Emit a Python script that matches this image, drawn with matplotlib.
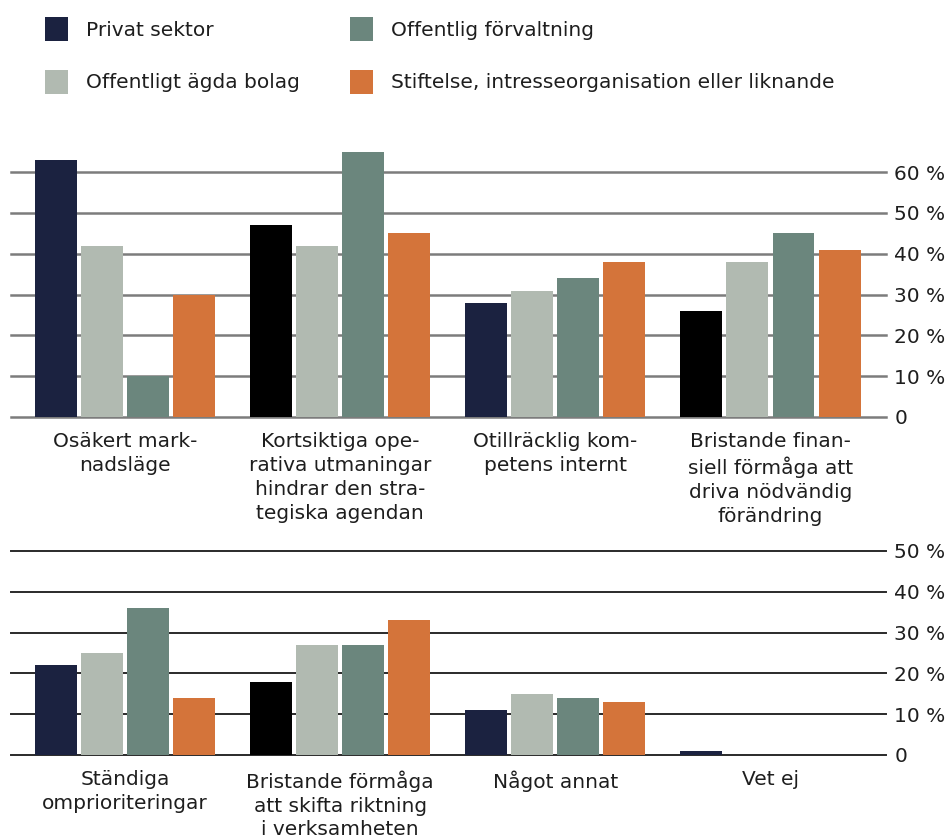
import matplotlib
matplotlib.use("Agg")
import matplotlib.pyplot as plt
from matplotlib.patches import Rectangle
import numpy as np

plt.rcParams['font.family'] = ['DejaVu Sans']

series = ["Privat sektor", "Offentligt ägda bolag", "Offentlig förvaltning",
          "Stiftelse, intresseorganisation eller liknande"]
colors = ["#1b2240", "#b1bab1", "#6b867d", "#d4743a"]

top_categories = ["Osäkert mark-\nnadsläge",
                  "Kortsiktiga ope-\nrativa utmaningar\nhindrar den stra-\ntegiska agendan",
                  "Otillräcklig kom-\npetens internt",
                  "Bristande finan-\nsiell förmåga att\ndriva nödvändig\nförändring"]
top_values = {
    "Privat sektor": [63, 47, 28, 26],
    "Offentligt ägda bolag": [42, 42, 31, 38],
    "Offentlig förvaltning": [10, 65, 34, 45],
    "Stiftelse, intresseorganisation eller liknande": [30, 45, 38, 41],
}
top_ticks = [0, 10, 20, 30, 40, 50, 60]

bottom_categories = ["Ständiga\nomprioriteringar",
                     "Bristande förmåga\natt skifta riktning\ni verksamheten",
                     "Något annat",
                     "Vet ej"]
bottom_values = {
    "Privat sektor": [22, 18, 11, 1],
    "Offentligt ägda bolag": [25, 27, 15, 0],
    "Offentlig förvaltning": [36, 27, 14, 0],
    "Stiftelse, intresseorganisation eller liknande": [14, 33, 13, 0],
}
bottom_ticks = [0, 10, 20, 30, 40, 50]

# Private-sector bars printed in black in some groups
top_private_colors = ["#1b2240", "#000000", "#1b2240", "#000000"]
bottom_private_colors = ["#1b2240", "#000000", "#1b2240", "#1b2240"]

FS = 14.5
TEXT = "#1e1e1e"

W, H = 947, 840
fig = plt.figure(figsize=(W / 100, H / 100), dpi=100)

left_px, right_px = 11, 886
px_per_pct = 4.08


def make_axes(base_px, ymax):
    height_px = ymax * px_per_pct
    return fig.add_axes([left_px / W, 1 - base_px / H,
                         (right_px - left_px) / W, height_px / H])


def draw_panel(ax, cats, values, ticks, ymax, private_colors, grid_color, grid_lw):
    x = np.arange(len(cats))
    width = 0.195
    step = 0.214
    for i, name in enumerate(series):
        offs = (i - 1.5) * step
        c = private_colors if i == 0 else colors[i]
        ax.bar(x + offs, values[name], width=width, color=c, zorder=3, linewidth=0)
    ax.set_xlim(-0.53, 3.537)
    ax.set_ylim(0, ymax)
    ax.set_yticks(ticks)
    ax.set_yticklabels(["0" if t == 0 else f"{t} %" for t in ticks])
    ax.yaxis.tick_right()
    ax.tick_params(axis='y', length=0, pad=6, labelsize=FS, labelcolor=TEXT)
    ax.set_xticks(x)
    ax.set_xticklabels(cats, linespacing=1.32)
    ax.tick_params(axis='x', length=0, pad=11, labelsize=FS, labelcolor=TEXT)
    for t in ticks:
        ax.axhline(t, color=grid_color, lw=grid_lw, zorder=1, clip_on=False)
    for s in ax.spines.values():
        s.set_visible(False)
    ax.patch.set_alpha(0)


ax_top = make_axes(417, 66)
draw_panel(ax_top, top_categories, top_values, top_ticks, 66,
           top_private_colors, "#7c7c7c", 1.8)

ax_bot = make_axes(755, 51)
draw_panel(ax_bot, bottom_categories, bottom_values, bottom_ticks, 51,
           bottom_private_colors, "#2a2a2a", 1.4)

# Legend laid out in two columns above the panels
legend_pos = [(45, 29), (45, 82), (350, 29), (350, 82)]
for (lx, ly), name, c in zip(legend_pos, series, colors):
    fig.add_artist(Rectangle((lx / W, 1 - (ly + 12) / H), 23 / W, 24 / H,
                             transform=fig.transFigure, color=c, lw=0))
    fig.text((lx + 41) / W, 1 - (ly + 1) / H, name, fontsize=FS, va='center',
             ha='left', color=TEXT)

fig.savefig("out.png", dpi=100)
